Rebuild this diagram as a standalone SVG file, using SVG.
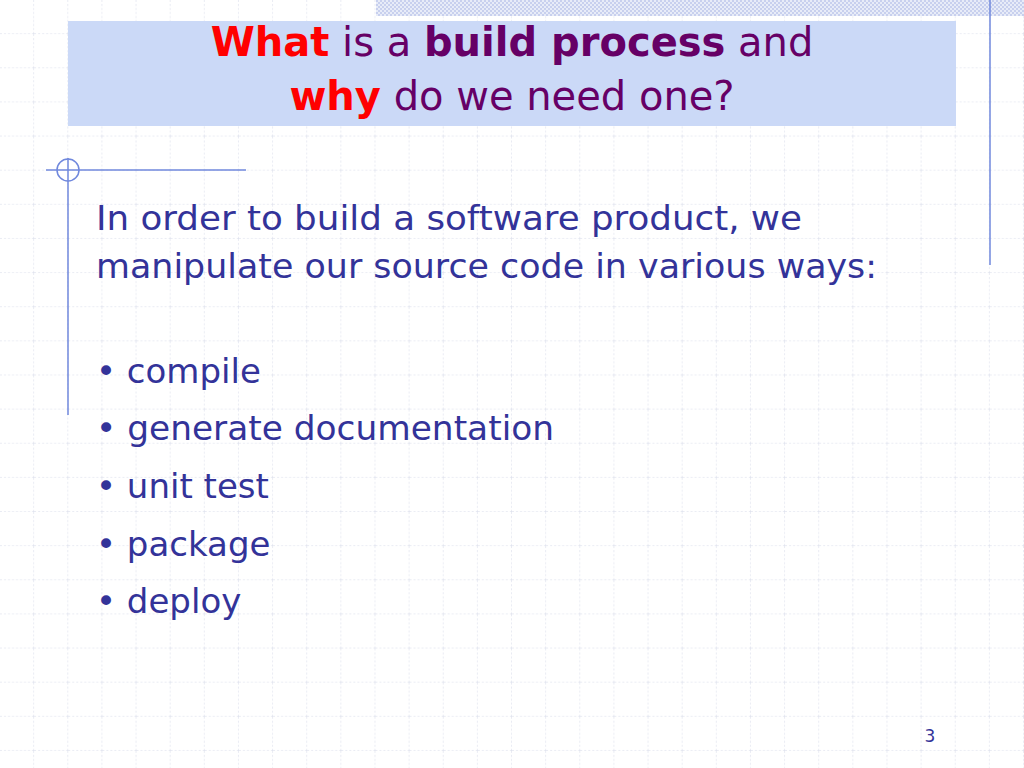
<svg xmlns="http://www.w3.org/2000/svg" width="1024" height="768" viewBox="0 0 1024 768">
<defs>
<pattern id="grid" width="34.133" height="34.133" patternUnits="userSpaceOnUse">
<path d="M34.133 0V34.133M0 34.133H34.133" fill="none" stroke="#d4d8e8" stroke-width="1" stroke-dasharray="2 2"/>
</pattern>
<pattern id="dots" width="4" height="4" patternUnits="userSpaceOnUse">
<rect width="4" height="4" fill="#e8ecf8"/><rect width="2" height="2" fill="#c8d0ee"/><rect x="2" y="2" width="2" height="2" fill="#c8d0ee"/>
</pattern>
<style>
.b{font-family:"DejaVu Sans",Verdana,sans-serif;font-size:34px;fill:#333399}
.t{font-family:"DejaVu Sans",Verdana,sans-serif;font-size:40px;fill:#660066}
.ln{stroke:#7088dd;stroke-width:1.5;fill:none}
</style>
</defs>
<rect width="1024" height="768" fill="#fff"/>
<rect width="1024" height="768" fill="url(#grid)"/>
<rect x="376" y="0" width="648" height="16" fill="url(#dots)"/>
<line class="ln" x1="990" y1="0" x2="990" y2="265" stroke="#9999dd"/>
<rect x="68" y="21" width="888" height="105" fill="#cbd9f7"/>
<text class="t" x="512" y="56" text-anchor="middle"><tspan fill="#ff0000" font-weight="bold">What</tspan> is a <tspan font-weight="bold">build process</tspan> and</text>
<text class="t" x="512" y="110" text-anchor="middle"><tspan fill="#ff0000" font-weight="bold">why</tspan> do we need one?</text>
<line class="ln" x1="46" y1="170" x2="246" y2="170"/>
<line class="ln" x1="68" y1="158" x2="68" y2="415"/>
<circle class="ln" cx="68" cy="170" r="11"/>
<text class="b" x="96" y="230" textLength="706" lengthAdjust="spacingAndGlyphs">In order to build a software product, we</text>
<text class="b" x="96" y="278" textLength="781" lengthAdjust="spacingAndGlyphs">manipulate our source code in various ways:</text>
<text class="b" x="96" y="383">• compile</text>
<text class="b" x="96" y="440" textLength="458" lengthAdjust="spacingAndGlyphs">• generate documentation</text>
<text class="b" x="96" y="498">• unit test</text>
<text class="b" x="96" y="556">• package</text>
<text class="b" x="96" y="613">• deploy</text>
<text x="930" y="742" font-family="DejaVu Sans,sans-serif" font-size="17" fill="#333399" text-anchor="middle">3</text>
</svg>
